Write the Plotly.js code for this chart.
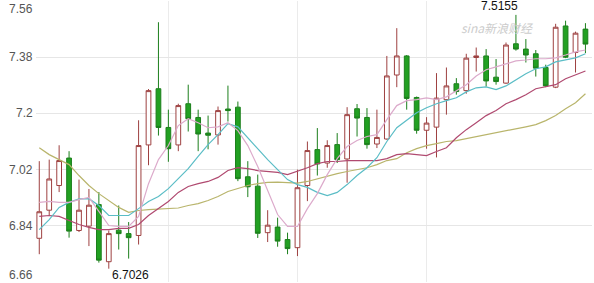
<!DOCTYPE html>
<html>
<head>
<meta charset="utf-8">
<script src="https://cdn.plot.ly/plotly-3.0.1.min.js"></script>
<style>
html,body{margin:0;padding:0;background:#fff;}
#chart{width:594px;height:283px;}
</style>
</head>
<body>
<div id="chart"></div>
<script>
// Daily K-line values
const open  = [6.800, 6.890, 6.969, 7.057, 6.825, 6.839, 6.908, 6.725, 6.826, 6.815, 6.809, 7.099, 7.279, 7.155, 7.099, 7.231, 7.187, 7.137, 7.131, 7.214, 7.220, 6.997, 6.967, 6.818, 6.836, 6.796, 6.770, 6.969, 7.084, 7.041, 7.100, 7.054, 7.215, 7.187, 7.102, 7.118, 7.323, 7.384, 7.251, 7.146, 7.156, 7.244, 7.295, 7.273, 7.379, 7.384, 7.316, 7.297, 7.423, 7.406, 7.391, 7.347, 7.284, 7.480, 7.395, 7.470];
const high  = [7.047, 7.052, 7.098, 7.079, 6.988, 6.958, 6.948, 6.825, 6.905, 6.852, 7.178, 7.278, 7.492, 7.212, 7.231, 7.292, 7.212, 7.193, 7.222, 7.289, 7.238, 7.047, 7.004, 6.890, 6.866, 6.818, 7.020, 7.110, 7.153, 7.114, 7.137, 7.220, 7.230, 7.217, 7.212, 7.384, 7.473, 7.387, 7.254, 7.188, 7.329, 7.347, 7.313, 7.391, 7.411, 7.406, 7.374, 7.427, 7.5155, 7.438, 7.403, 7.356, 7.487, 7.497, 7.462, 7.489];
const low   = [6.749, 6.873, 6.948, 6.802, 6.820, 6.775, 6.722, 6.7026, 6.764, 6.735, 6.780, 7.034, 7.129, 7.045, 7.079, 7.142, 7.079, 7.085, 7.100, 7.174, 6.983, 6.932, 6.801, 6.788, 6.773, 6.749, 6.743, 6.919, 7.001, 7.026, 7.041, 6.978, 7.126, 7.087, 7.089, 7.116, 7.284, 7.212, 7.135, 7.087, 7.059, 7.196, 7.260, 7.263, 7.334, 7.286, 7.292, 7.295, 7.401, 7.363, 7.318, 7.284, 7.281, 7.377, 7.331, 7.393];
const close = [6.885, 6.990, 7.049, 6.823, 6.890, 6.906, 6.730, 6.815, 6.815, 6.802, 7.097, 7.273, 7.155, 7.087, 7.225, 7.183, 7.134, 7.130, 7.209, 7.209, 6.991, 6.965, 6.816, 6.842, 6.791, 6.767, 6.962, 7.081, 7.038, 7.097, 7.052, 7.196, 7.185, 7.100, 7.123, 7.320, 7.384, 7.248, 7.146, 7.169, 7.249, 7.288, 7.270, 7.377, 7.384, 7.304, 7.302, 7.419, 7.406, 7.387, 7.345, 7.288, 7.476, 7.380, 7.457, 7.422];

// Moving-average lines
const ma5  = [6.915, 6.918, 6.915, 6.915, 6.924, 6.931, 6.886, 6.841, 6.838, 6.838, 6.870, 6.975, 7.052, 7.097, 7.161, 7.183, 7.170, 7.154, 7.157, 7.170, 7.145, 7.097, 7.030, 6.950, 6.876, 6.838, 6.838, 6.895, 6.943, 7.004, 7.055, 7.094, 7.113, 7.126, 7.132, 7.180, 7.225, 7.241, 7.244, 7.250, 7.244, 7.253, 7.272, 7.292, 7.320, 7.340, 7.349, 7.359, 7.368, 7.371, 7.375, 7.375, 7.378, 7.387, 7.397, 7.403];
const ma10 = [6.828, 6.860, 6.899, 6.915, 6.926, 6.927, 6.905, 6.873, 6.873, 6.873, 6.895, 6.918, 6.934, 6.959, 6.991, 7.023, 7.062, 7.100, 7.132, 7.167, 7.157, 7.122, 7.084, 7.052, 7.020, 6.988, 6.972, 6.963, 6.947, 6.937, 6.947, 6.972, 7.001, 7.026, 7.058, 7.110, 7.154, 7.177, 7.202, 7.218, 7.231, 7.241, 7.250, 7.269, 7.282, 7.285, 7.276, 7.288, 7.308, 7.327, 7.343, 7.349, 7.365, 7.371, 7.378, 7.391];
const ma20 = [6.870, 6.873, 6.870, 6.857, 6.844, 6.835, 6.828, 6.828, 6.832, 6.832, 6.844, 6.873, 6.895, 6.918, 6.947, 6.966, 6.975, 6.982, 6.995, 7.017, 7.026, 7.023, 7.017, 7.014, 7.011, 7.004, 7.014, 7.026, 7.039, 7.046, 7.046, 7.049, 7.049, 7.049, 7.049, 7.055, 7.068, 7.071, 7.068, 7.065, 7.078, 7.090, 7.122, 7.148, 7.170, 7.193, 7.209, 7.231, 7.244, 7.260, 7.279, 7.285, 7.292, 7.311, 7.324, 7.336];
const ma60 = [7.090, 7.068, 7.052, 7.036, 7.001, 6.969, 6.943, 6.921, 6.899, 6.883, 6.889, 6.892, 6.894, 6.894, 6.897, 6.905, 6.911, 6.921, 6.934, 6.950, 6.959, 6.969, 6.975, 6.979, 6.980, 6.979, 6.977, 6.982, 6.991, 6.998, 7.007, 7.014, 7.020, 7.026, 7.036, 7.049, 7.055, 7.074, 7.087, 7.097, 7.103, 7.110, 7.113, 7.119, 7.126, 7.132, 7.138, 7.145, 7.151, 7.157, 7.164, 7.177, 7.193, 7.215, 7.234, 7.263];

// Axis ticks
const yTicks = [7.56, 7.38, 7.2, 7.02, 6.84, 6.66];
const yTickLabels = ['7.56', '7.38', '7.2', '7.02', '6.84', '6.66'];
const xGridDays = [13, 26, 39];

// Marked extremes
const maxLabel = '7.5155';
const minLabel = '6.7026';
const watermark = 'sina新浪财经';

const days = open.map((_, i) => i);
const iMax = high.indexOf(Math.max(...high));
const iMin = low.indexOf(Math.min(...low));

const traces = [
  {
    type: 'candlestick', x: days, open: open, high: high, low: low, close: close,
    increasing: {line: {color: '#9e4040', width: 1}, fillcolor: '#ffffff'},
    decreasing: {line: {color: '#1c7f1c', width: 1}, fillcolor: '#22a022'},
    whiskerwidth: 0, hoverinfo: 'skip'
  },
  {type: 'scatter', mode: 'lines', x: days, y: ma60, line: {color: '#b9b56c', width: 1.2}, hoverinfo: 'skip'},
  {type: 'scatter', mode: 'lines', x: days, y: ma20, line: {color: '#b04a70', width: 1.2}, hoverinfo: 'skip'},
  {type: 'scatter', mode: 'lines', x: days, y: ma10, line: {color: '#5bbdc6', width: 1.2}, hoverinfo: 'skip'},
  {type: 'scatter', mode: 'lines', x: days, y: ma5, line: {color: '#dcaacb', width: 1.2}, hoverinfo: 'skip'}
];

const annotations = yTicks.map((v, i) => ({
  xref: 'paper', yref: 'y', x: 0, y: v, xanchor: 'right', yanchor: 'middle',
  xshift: -1,
  yshift: i === 0 ? -8 : (i === yTicks.length - 1 ? 7 : 0),
  text: yTickLabels[i], showarrow: false,
  font: {family: 'Liberation Sans, Arial, sans-serif', size: 12, color: '#555555'}
}));
annotations.push({
  x: iMax, y: high[iMax], xref: 'x', yref: 'y', text: maxLabel, showarrow: false,
  xanchor: 'right', yanchor: 'bottom', xshift: 4, yshift: 0,
  font: {family: 'Liberation Sans, Arial, sans-serif', size: 12, color: '#111111'}
});
annotations.push({
  x: iMin, y: low[iMin], xref: 'x', yref: 'y', text: minLabel, showarrow: false,
  xanchor: 'left', yanchor: 'top', xshift: 2, yshift: 2, borderpad: 0,
  font: {family: 'Liberation Sans, Arial, sans-serif', size: 12, color: '#111111'}
});
annotations.push({
  xref: 'paper', yref: 'paper', x: 0.83, y: 0.905, text: '<i>' + watermark + '</i>', showarrow: false,
  xanchor: 'center', yanchor: 'middle',
  font: {family: 'Noto Sans CJK SC, sans-serif', size: 12, color: '#cccccc'}
});

const layout = {
  width: 594, height: 283,
  margin: {l: 36, r: 2, t: 1, b: 1, pad: 0},
  paper_bgcolor: '#ffffff', plot_bgcolor: '#ffffff',
  showlegend: false, hovermode: false, boxgap: 0.32,
  xaxis: {
    range: [-0.33, 55.66], tickvals: xGridDays, showticklabels: false,
    showgrid: true, gridcolor: '#ebebeb', gridwidth: 1, zeroline: false,
    showline: false, ticks: '', rangeslider: {visible: false}, fixedrange: true
  },
  yaxis: {
    range: [6.66, 7.56], tickvals: yTicks, showticklabels: false,
    showgrid: true, gridcolor: '#e6e6e6', gridwidth: 1, zeroline: false,
    showline: false, ticks: '', fixedrange: true
  },
  annotations: annotations
};

Plotly.newPlot('chart', traces, layout, {displayModeBar: false, staticPlot: true});
</script>
</body>
</html>
